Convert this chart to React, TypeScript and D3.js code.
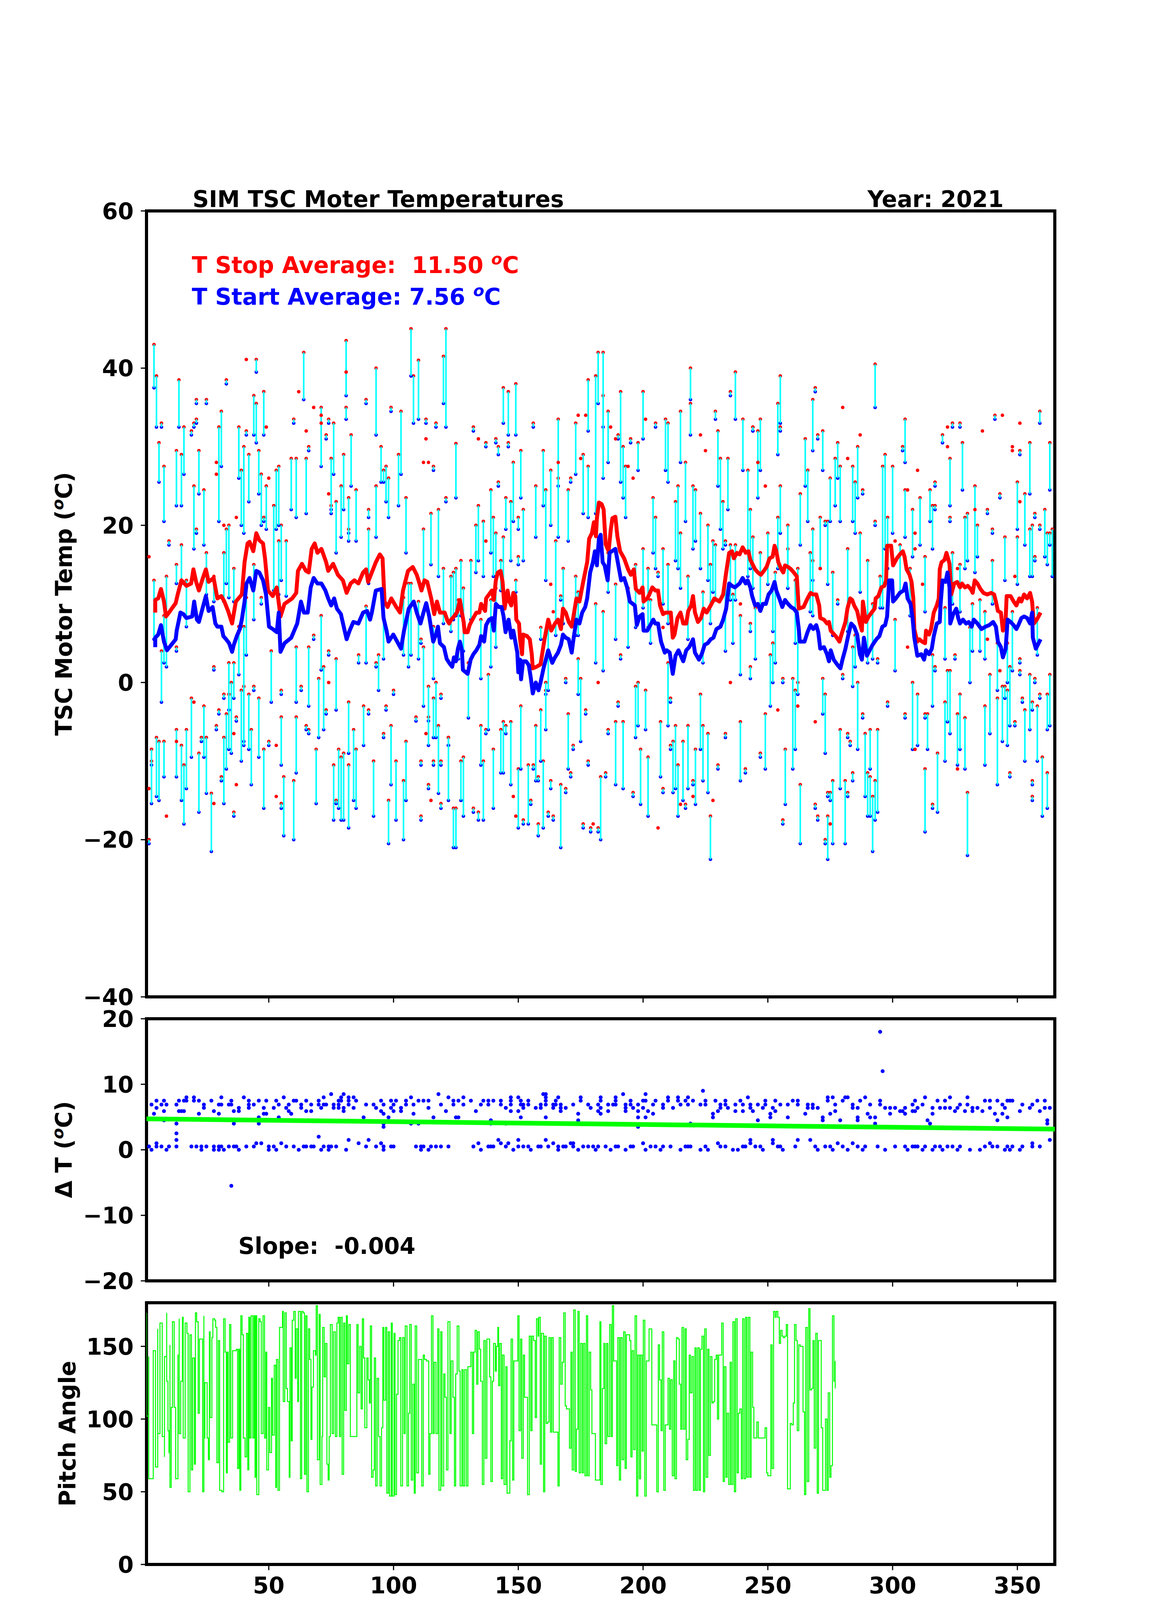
import * as d3 from 'd3'
import { useEffect } from 'react'

// ---- top panel: [yday, T stop, T start] per move ----
const moves: [number, number, number][] = [
  [4,43.0,37.5],[5,39.0,32.5],[7,33.0,32.5],[6,30.5,25.5],[8,27.5,20.5],[14,38.5,32.5],[16,32.5,26.5],[13,29.5,22.5],[15,29.0,22.5],[10,18.0,17.5],
  [21,36.0,35.5],[25,36.0,35.5],[19,32.0,31.5],[20,33.0,32.5],[21,33.5,33.0],[22,29.5,24.0],[20,25.0,17.0],[24,24.5,17.5],[21,19.5,19.0],[30,32.5,20.5],
  [31,34.5,27.5],[33,38.5,38.0],[45,41.1,39.5],[38,32.5,26.0],[39,27.0,20.0],[40,30.0,19.0],[41,32.0,31.5],[42,29.0,23.0],[44,36.5,31.5],[45,35.5,30.5],
  [48,37.0,31.5],[46,29.5,24.0],[47,26.5,20.0],[48,21.0,20.5],[49,25.0,19.5],[52,22.5,11.7],[53,27.0,19.5],[54,27.5,20.0],[55,20.0,13.0],[54,18.0,11.2],
  [57,18.0,11.0],[59,28.5,22.0],[60,33.5,33.0],[61,28.5,21.0],[64,42.0,36.0],[65,28.5,21.5],[66,30.0,29.5],[71,35.0,27.5],[73,31.5,31.0],[74,33.5,33.0],
  [76,33.0,26.5],[75,28.5,21.5],[75,22.5,22.0],[77,23.0,16.5],[79,25.0,18.5],[80,29.0,22.0],[81,43.5,36.5],[81,35.0,33.5],[82,23.5,18.0],[82,19.5,19.0],
  [83,31.5,25.0],[85,24.5,18.0],[89,36.0,35.5],[93,40.0,31.5],[95,30.0,25.5],[96,27.0,25.5],[97,27.5,23.0],[98,26.0,21.0],[93,25.0,18.5],[90,22.0,21.0],
  [90,19.5,12.6],[99,35.0,34.5],[103,34.5,26.5],[102,29.0,22.5],[105,23.5,16.5],[107,45.0,39.0],[108,39.0,33.0],[110,41.0,33.5],[113,33.5,33.0],[117,33.0,32.5],
  [116,27.5,27.0],[120,41.5,35.5],[121,45.0,32.5],[121,23.5,23.0],[115,21.5,15.0],[118,22.0,13.5],[112,19.5,12.6],[120,14.5,7.5],
  [4,13.0,5.5],[7,4.0,-2.5],[8,8.5,2.5],[9,13.5,2.0],[13,4.5,4.0],[15,17.5,12.6],[13,15.0,12.6],[17,13.0,7.1],[25,16.5,11.2],[28,13.5,10.3],
  [28,2.0,1.6],[32,16.5,10.3],[33,19.5,12.6],[34,20.0,10.8],[36,14.5,10.3],[34,2.5,-3.5],[35,0.0,-9.0],[36,2.5,-2.0],[38,7.1,1.0],[40,7.1,-8.0],
  [41,10.8,3.5],[44,15.0,8.0],[47,10.8,10.0],[51,4.0,-2.5],[55,-1.0,-1.5],[61,4.5,-2.5],[66,4.5,-3.0],[63,-0.5,-1.0],[68,6.0,5.5],[71,8.5,1.6],
  [72,2.0,-6.0],[70,0.5,-7.0],[74,4.0,3.5],[77,3.0,-3.5],[73,-3.5,-4.0],[86,3.5,2.5],[89,9.7,2.5],[94,3.5,-1.0],[96,11.2,3.0],[93,2.5,2.0],
  [100,-1.0,-1.5],[97,-3.0,-3.5],[104,10.8,3.5],[106,12.6,2.0],[107,12.6,3.5],[110,10.3,3.0],[111,5.5,5.0],[112,4.5,-3.0],[114,-0.5,-8.0],[116,-2.0,-7.0],
  [117,0.0,-7.0],[116,7.1,0.5],[119,-1.5,-2.0],[122,-7.0,-8.0],[114,-4.4,-4.9],[118,-5.5,-14.1],[122,-8.0,-15.0],
  [3,-8.5,-15.4],[5,-7.0,-14.5],[6,-7.5,-15.0],[8,-7.5,-12.0],[3,-10.0,-10.5],[13,-6.0,-12.0],[15,-8.0,-15.0],[16,-10.5,-18.0],[17,-6.0,-13.5],[19,-2.0,-9.5],
  [22,-9.0,-16.5],[23,-7.0,-7.5],[24,-3.0,-9.5],[25,-7.0,-14.1],[27,-14.1,-21.5],[29,-5.5,-6.0],[30,-3.5,-4.0],[31,-12.0,-12.5],[32,-7.0,-15.4],[32,-1.5,-2.0],
  [33,-4.0,-11.0],[34,-1.5,-8.5],[37,-4.4,-4.9],[36,-16.5,-17.0],[39,-1.0,-10.0],[40,-0.5,-7.5],[42,-1.5,-8.5],[43,-6.0,-13.0],[44,-0.5,-1.0],[46,-2.0,-9.5],
  [48,-8.5,-16.0],[50,-7.5,-8.0],[55,-4.4,-10.5],[55,-15.4,-16.0],[56,-12.0,-19.5],[60,-12.5,-20.0],[61,-4.4,-11.5],[65,-5.5,-6.0],[66,-6.0,-6.5],[69,-8.5,-15.4],
  [76,-10.5,-17.5],[77,-15.0,-15.4],[78,-8.5,-16.0],[79,-9.5,-17.5],[80,-9.0,-17.5],[82,-2.5,-9.0],[82,-10.5,-18.5],[84,-6.0,-15.0],[85,-8.5,-16.0],[88,-3.0,-8.0],
  [90,-3.5,-4.0],[92,-10.0,-17.0],[96,-6.5,-7.0],[98,-15.0,-20.5],[99,-5.5,-13.0],[101,-10.0,-17.5],[104,-12.5,-20.0],[105,-7.5,-15.0],[109,-4.4,-4.9],[111,-10.0,-10.5],
  [111,-17.0,-17.5],[114,-13.0,-13.5],[116,-10.0,-10.5],[119,-10.0,-10.5],[119,-15.4,-16.0],[2,-20.0,-20.5],
  [125,30.4,23.5],[132,32.5,32.0],[137,30.5,30.0],[141,31.0,30.5],[142,30.0,29.0],[144,37.5,33.0],[146,37.0,31.5],[146,30.5,30.0],[149,38.0,31.5],[156,33.0,32.5],
  [142,25.5,25.0],[148,28.0,20.5],[151,29.5,23.5],[145,23.5,19.5],[147,23.0,15.5],[150,21.0,19.5],[152,22.0,15.5],[150,16.0,15.0],[139,24.5,16.5],[140,21.0,13.5],
  [141,19.0,13.5],[134,22.5,15.5],[133,20.0,14.0],[136,20.5,13.5],[144,18.5,11.7],[143,15.5,11.7],[160,29.5,22.5],[157,25.0,18.5],[161,24.5,13.0],[163,27.0,20.0],
  [166,33.5,18.5],[166,26.0,25.0],[170,24.5,18.0],[171,26.0,25.5],[173,33.0,26.5],[176,29.0,21.5],[178,38.5,32.0],[178,27.5,21.0],[181,39.0,21.5],[182,42.0,35.5],
  [184,42.0,26.0],[184,36.5,32.5],[186,34.5,28.0],[191,37.0,25.5],[192,30.0,23.5],[193,27.5,21.0],[190,31.5,31.0],[195,31.0,30.5],[198,30.5,27.0],[200,37.0,31.0],
  [205,33.0,32.5],[209,33.5,27.0],[210,33.0,25.5],[215,34.5,28.0],[219,40.0,36.0],[219,35.5,31.5],[229,34.5,33.5],[230,32.0,25.0],[231,28.5,19.5],[234,28.5,22.0],
  [235,37.0,36.5],[237,39.5,33.5],[240,33.5,27.0],[244,32.5,32.0],[242,27.0,13.5],[204,23.5,16.5],[205,21.0,14.5],[208,17.0,10.0],[210,15.0,7.5],[213,23.0,15.5],
  [214,25.0,14.5],[215,19.0,12.0],[217,28.0,20.5],[220,25.0,17.0],[221,24.5,18.0],[223,21.5,14.5],[226,20.0,13.0],[228,18.0,11.5],[229,17.5,10.5],[232,23.0,17.0],
  [233,18.0,17.5],[243,22.0,14.5],[218,13.5,5.5],[227,15.0,7.5],[224,11.5,2.5],[235,17.5,10.5],[237,17.5,10.5],[236,11.2,5.0],[239,8.5,1.0],[233,13.5,4.0],
  [243,7.5,6.5],[243,2.0,0.5],
  [123,13.5,6.5],[124,14.0,8.0],[125,14.5,8.5],[127,15.5,8.5],[126,10.5,3.0],[128,12.0,4.0],[130,2.5,-4.5],[131,15.5,8.0],[135,8.0,0.5],[138,1.0,-6.0],
  [139,10.5,2.0],[141,12.0,4.5],[149,13.0,11.5],[159,7.0,5.5],[165,18.0,6.0],[168,14.5,7.5],[167,11.0,10.5],[173,13.5,6.0],[174,11.5,6.0],[162,7.5,-1.0],
  [161,0.0,-1.5],[174,3.0,-1.5],[175,0.5,-7.5],[169,0.5,0.0],[181,10.0,2.5],[184,9.0,1.5],[186,16.5,11.5],[189,12.5,5.5],[191,3.5,3.0],[194,12.0,4.5],
  [197,15.0,7.0],[200,17.0,9.5],[202,14.5,7.0],[203,10.5,5.0],[206,14.0,13.5],[197,-0.5,-7.0],[198,0.0,-5.5],[201,-1.0,-6.0],[210,2.5,-5.5],[211,-2.0,-2.5],
  [190,-2.5,-3.0],[177,-3.5,-4.0],[223,-1.5,-8.5],
  [122,-7.0,-8.0],[127,-10.0,-15.0],[128,-9.5,-17.0],[124,-16.0,-21.0],[125,-16.0,-21.0],[132,-16.0,-16.5],[134,-16.5,-17.5],[135,-5.5,-10.5],[136,-10.0,-17.5],[137,-6.0,-6.5],
  [140,-8.5,-16.0],[143,-6.0,-11.5],[144,-5.0,-11.5],[145,-5.5,-6.5],[147,-5.0,-13.0],[150,-11.0,-18.5],[151,-3.0,-11.0],[152,-17.5,-18.0],[154,-10.5,-18.0],[155,-15.0,-15.5],
  [156,-10.5,-11.0],[157,-5.5,-12.5],[158,-12.0,-12.5],[158,-18.0,-19.5],[159,-3.5,-10.0],[160,-10.0,-18.5],[161,-1.0,-6.0],[162,-16.5,-17.0],[163,-12.5,-13.5],[164,-17.0,-17.5],
  [167,-13.0,-21.0],[169,-13.5,-14.0],[170,-4.0,-11.0],[171,-11.5,-12.0],[172,-8.0,-8.5],[176,-18.0,-18.5],[178,-10.0,-10.5],[179,-18.5,-19.0],[182,-18.5,-19.0],[183,-12.0,-20.0],
  [185,-11.5,-12.0],[186,-6.0,-6.5],[189,-5.0,-13.0],[192,-5.0,-13.5],[196,-14.0,-14.5],[199,-8.5,-15.5],[202,-9.5,-17.0],[207,-5.0,-12.0],[208,-13.5,-14.0],[211,-8.0,-8.5],
  [212,-7.5,-14.0],[213,-5.5,-13.5],[214,-10.5,-17.0],[216,-7.5,-15.0],[217,-15.5,-16.0],[218,-5.5,-13.5],[220,-12.5,-13.0],[221,-8.5,-15.5],[224,-5.5,-12.5],[226,-6.5,-14.0],
  [227,-17.0,-22.5],[230,-10.5,-11.0],[233,-6.5,-7.0],[239,-5.0,-12.5],[241,-11.0,-11.5],
  [244,32.5,32.0],[246,32.0,23.5],[247,33.5,27.0],[254,35.5,29.0],[255,39.0,33.0],[255,32.5,32.0],[255,25.0,19.0],[254,21.0,14.5],[263,24.0,17.5],[265,31.0,25.0],
  [266,27.0,20.5],[268,36.0,29.5],[269,37.5,37.0],[270,31.5,31.0],[272,32.0,27.0],[268,19.5,13.0],[271,21.0,14.5],[258,20.0,12.0],[273,20.5,20.0],[274,20.5,12.5],
  [275,26.0,20.5],[277,28.5,22.5],[278,30.5,26.0],[279,27.5,20.5],[284,27.5,20.5],[285,25.5,19.0],[286,30.0,23.5],[288,24.5,24.0],[293,40.5,35.0],[293,20.5,20.0],
  [296,27.5,9.5],[297,29.0,17.0],[300,27.5,19.0],[298,21.0,14.5],[305,33.5,28.0],[304,30.0,29.5],[305,24.5,18.5],[308,22.0,16.0],[311,23.5,17.5],[315,24.5,20.5],
  [317,25.5,25.0],[317,22.5,22.0],[316,22.5,17.0],[320,31.5,30.5],[324,33.0,32.5],[327,33.0,32.5],[323,28.5,22.5],[323,21.0,20.5],[328,30.5,24.5],[329,21.0,14.5],
  [330,21.5,15.5],[333,25.0,14.0],[334,20.0,16.0],[338,22.0,21.5],[340,19.5,19.0],[341,34.0,33.5],[343,24.0,23.5],[345,18.5,13.0],[350,25.5,19.5],[350,18.5,12.5],
  [351,29.5,29.0],[353,24.0,17.5],[355,30.5,24.0],[355,19.5,13.5],[356,20.0,13.5],[357,21.5,21.0],[357,16.0,15.5],[359,34.5,33.0],[359,20.0,19.5],[361,22.0,16.0],
  [362,19.0,15.0],[363,19.0,17.5],[363,30.5,24.5],[364,19.5,13.5],[340,15.5,10.0],
  [244,18.5,12.0],[247,16.5,9.5],[245,9.5,3.0],[250,19.0,12.5],[252,12.0,6.5],[253,14.0,2.5],[251,3.5,-3.0],[252,5.0,0.0],[256,0.5,0.0],[258,17.0,12.0],
  [262,14.5,-1.5],[261,13.0,5.0],[260,0.5,-11.0],[261,-1.0,-8.5],[267,16.5,9.0],[268,15.5,8.5],[276,14.0,6.0],[278,10.5,10.0],[282,17.0,6.5],[284,4.5,-0.5],
  [285,6.0,2.0],[286,0.0,-8.5],[287,19.0,11.5],[290,15.5,2.5],[292,10.0,3.0],[294,3.0,2.5],[295,13.5,9.5],[301,8.0,1.5],[303,17.5,11.5],[307,14.5,8.5],
  [313,16.0,9.0],[316,3.5,-3.0],[317,2.0,1.5],[321,9.5,3.0],[324,16.5,10.0],[325,3.5,3.0],[327,15.0,9.0],[331,7.0,0.0],[332,10.0,4.0],[335,10.5,4.0],
  [337,9.0,3.0],[342,5.0,-1.0],[346,5.0,0.0],[348,9.0,1.5],[351,3.0,2.5],[351,1.5,1.0],[358,9.5,3.5],
  [249,-4.0,-11.0],[247,-9.0,-9.5],[256,-17.5,-18.0],[257,-8.5,-15.5],[262,0.0,-1.5],[263,-13.0,-20.5],[269,-15.5,-16.0],[270,-17.0,-17.5],[272,0.5,-4.0],[273,-1.5,-9.0],
  [274,-17.0,-22.5],[273,-20.0,-20.5],[274,-14.0,-14.5],[275,-14.0,-15.0],[276,-12.5,-20.5],[279,-6.0,-13.5],[280,1.0,0.5],[281,-12.5,-20.5],[282,-6.5,-7.0],[282,-14.0,-14.5],
  [283,-7.5,-8.0],[284,-11.5,-12.5],[288,-4.0,-4.5],[289,-6.5,-14.5],[290,-11.5,-17.0],[291,-6.0,-11.0],[291,-12.0,-17.0],[292,-14.5,-21.5],[293,-12.5,-17.5],[294,-6.0,-16.5],
  [298,-2.5,-3.0],[305,-4.0,-4.5],[308,0.0,-8.5],[310,-1.5,-8.0],[313,-4.0,-4.5],[314,-4.0,-8.5],[313,-11.0,-19.0],[316,-15.5,-16.0],[318,-9.0,-16.5],[321,-2.5,-10.0],
  [322,1.5,-5.0],[323,1.5,-6.5],[326,-4.0,-10.5],[327,-1.5,-8.5],[329,-4.5,-11.0],[330,-14.0,-22.0],[337,-3.0,-10.5],[339,1.0,-6.5],[342,-2.0,-13.0],[344,-0.5,-7.5],
  [345,-0.5,-2.0],[346,-1.0,-8.0],[347,2.0,-5.5],[347,-11.5,-12.0],[349,-5.0,-5.5],[352,-2.0,-2.5],[353,-3.5,-10.0],[355,1.0,-6.0],[356,-2.5,-3.5],[356,-12.5,-13.0],
  [356,-14.5,-15.0],[357,0.5,0.0],[358,-3.0,-10.0],[359,-1.5,-2.0],[360,-9.5,-17.0],[362,-11.5,-16.0],[362,-1.5,-6.0],[363,1.0,-5.5],
]

// stop readings with no matching start
const loneStops: [number, number][] = [
  [41,41.1],[49,32.5],[50,26.0],[37,21.0],[32,20.0],[29,28.0],[29,26.5],[62,37.0],[65,32.0],[68,35.0],[71,34.0],[71,33.0],[74,24.0],[81,39.5],
  [113,31.0],[112,28.0],[114,28.0],[2,16.0],[74,0.0],[113,-6.5],[13,-7.5],[20,-2.5],[28,-15.4],[36,-6.5],[37,-13.0],[53,-8.0],[53,-14.5],[115,-15.0],
  [9,-17.0],[2,-13.5],
  [134,31.0],[137,18.0],[175,28.5],[174,34.0],[177,34.0],[187,32.5],[189,31.0],[194,27.5],[196,26.0],[201,33.5],[223,31.5],[225,29.5],[166,28.0],
  [239,10.0],[235,0.0],[163,12.5],[164,9.0],[182,0.0],[208,7.0],[148,-14.5],[149,-17.0],[180,-18.0],[206,-18.5],[215,-15.5],[228,-15.0],[220,-14.5],
  [246,28.0],[249,25.0],[280,35.0],[282,28.5],[287,31.5],[306,24.5],[310,27.0],[322,32.5],[322,30.0],[333,22.0],[336,32.0],[344,34.0],[348,30.0],
  [348,29.5],[351,33.0],[351,23.0],[271,14.5],[301,18.0],[306,4.5],[309,19.0],[309,17.0],[312,12.5],[326,14.5],[338,5.5],[343,1.5],[349,13.5],
  [254,-3.5],[262,-3.0],[269,-5.0],[275,-18.0],[309,-8.5],[326,-11.0],
]

// running averages
const stopAvg: [number, number][] = [
  [4.5,8.9],[4.5,10.5],[5.7,10.7],[6.8,11.9],[8.0,10.3],[8.8,8.4],[10.0,8.9],[12.7,10.1],[13.5,11.2],[15.0,13.0],[17.0,12.3],[18.9,12.6],[19.8,14.4],
  [20.9,12.8],[22.0,11.7],[23.6,13.3],[24.8,14.4],[25.9,12.8],[27.9,13.3],[29.4,10.7],[31.0,11.0],[32.2,10.3],[33.7,9.1],[35.3,7.5],[36.8,10.3],
  [39.2,11.2],[40.3,15.3],[41.5,17.7],[42.3,17.9],[43.8,16.7],[45.0,19.0],[46.2,18.1],[47.7,17.7],[48.5,15.8],[49.7,11.7],[51.6,11.0],[53.2,12.1],
  [54.7,8.4],[56.3,10.0],[59.4,10.7],[61.0,11.4],[61.7,14.2],[63.3,15.1],[64.9,14.2],[66.0,14.0],[67.2,17.0],[68.4,17.7],[69.5,16.5],[71.1,17.0],
  [73.0,15.3],[73.8,14.2],[75.8,15.1],[77.7,13.7],[79.7,13.0],[81.2,11.4],[82.8,12.6],[84.3,13.0],[85.9,12.6],[87.8,14.0],[89.0,14.4],[89.8,12.8],
  [91.3,14.0],[92.9,15.3],[94.5,16.3],[95.6,15.8],[96.4,10.3],[97.6,9.6],[99.1,10.7],[101.1,9.6],[102.6,8.9],[103.8,11.7],[105.8,14.2],[107.7,14.7],
  [109.3,13.7],[110.4,12.6],[111.2,11.7],[112.4,13.0],[113.5,12.8],[115.1,10.7],[116.3,8.7],[117.4,10.3],[118.6,8.9],[120.5,8.9],[121.7,7.8],
  [122.3,7.5],[123.1,8.0],[124.2,8.4],[125.4,8.9],[126.6,10.5],[127.4,8.9],[128.1,7.7],[128.5,6.4],[129.7,6.4],[130.5,7.3],[131.6,8.0],[133.2,8.9],
  [134.4,8.9],[135.1,10.0],[136.7,9.1],[137.1,10.7],[138.7,11.4],[139.4,11.7],[140.2,10.5],[141.0,13.0],[141.8,14.0],[142.9,14.2],[143.7,12.8],
  [144.5,9.4],[145.7,11.7],[146.4,10.3],[147.2,9.8],[148.0,11.4],[148.8,11.0],[149.2,8.0],[150.3,7.5],[150.7,5.5],[151.5,3.6],[151.9,6.1],[153.5,5.9],
  [154.6,5.5],[155.4,3.6],[155.8,1.8],[157.3,2.0],[158.9,2.3],[160.5,5.5],[162.0,8.0],[163.2,6.6],[164.7,7.5],[165.9,8.0],[167.1,6.8],[167.9,9.4],
  [169.0,8.9],[170.2,7.7],[171.4,7.1],[172.1,8.4],[173.3,10.7],[174.5,10.3],[176.0,12.8],[177.6,15.3],[178.4,18.3],[179.5,19.0],[180.3,20.4],
  [181.1,18.6],[181.5,20.9],[182.3,22.9],[183.4,22.7],[184.2,22.0],[185.0,17.6],[186.2,16.7],[187.0,19.3],[187.7,20.9],[188.9,21.1],[189.7,18.6],
  [190.8,16.7],[192.4,15.8],[194.0,14.4],[195.1,13.7],[196.3,14.4],[197.1,11.9],[198.6,11.4],[199.8,12.1],[200.2,10.3],[201.7,10.7],[202.5,11.2],
  [203.7,12.1],[204.9,11.7],[206.0,11.7],[206.8,9.8],[208.0,8.7],[209.1,8.9],[211.1,8.9],[211.9,5.7],[212.6,6.1],[213.8,8.2],[215.0,8.9],[216.1,7.5],
  [217.3,7.5],[218.1,9.1],[219.3,9.8],[220.0,11.0],[220.8,8.9],[222.0,7.7],[223.2,8.2],[224.3,9.4],[225.5,8.9],[227.1,9.8],[228.6,10.7],[230.6,10.3],
  [232.1,11.2],[233.3,14.0],[234.5,16.5],[235.6,16.7],[236.4,15.8],[237.6,16.5],[238.7,16.3],[239.9,17.2],[241.1,16.5],[242.2,16.7],[243.0,15.6],
  [244.9,14.4],[246.0,14.0],[247.2,13.7],[248.4,14.2],[249.5,14.7],[250.7,15.8],[251.9,16.0],[252.7,17.4],[253.4,16.7],[254.2,15.3],[255.4,14.4],
  [256.2,14.0],[256.9,14.9],[258.1,14.7],[259.3,14.4],[260.4,14.0],[261.6,13.5],[262.4,9.4],[264.3,9.6],[265.9,10.7],[267.1,11.4],[268.2,11.2],
  [269.4,11.2],[270.6,9.8],[271.0,8.2],[272.5,8.0],[273.7,7.5],[274.5,7.7],[275.2,6.6],[277.2,5.9],[278.7,5.2],[279.5,6.1],[281.1,7.7],[281.9,9.4],
  [283.0,10.7],[283.8,10.5],[284.6,9.8],[285.8,9.1],[286.9,7.5],[287.7,6.6],[288.1,10.3],[289.3,7.7],[290.4,8.4],[291.6,8.9],[292.8,9.4],[293.2,10.7],
  [294.3,11.0],[295.5,12.1],[296.7,12.3],[297.4,13.0],[297.8,17.4],[299.4,17.4],[300.2,14.9],[301.7,15.8],[302.9,16.3],[304.1,16.7],[304.8,16.0],
  [305.6,14.4],[306.8,13.7],[307.6,12.8],[308.3,10.7],[308.7,6.8],[309.9,5.2],[310.7,5.5],[311.8,5.2],[313.0,5.0],[313.4,6.6],[314.6,6.1],[315.4,6.8],
  [316.5,8.9],[317.7,9.8],[318.5,10.7],[318.9,14.4],[319.6,15.3],[320.8,15.6],[321.6,16.5],[322.8,15.1],[323.5,11.2],[324.7,12.6],[325.9,12.8],
  [327.0,12.1],[327.8,12.6],[329.0,12.1],[330.1,12.3],[331.3,11.9],[332.1,11.4],[332.9,13.0],[334.0,12.6],[335.2,11.9],[336.4,11.4],[337.9,11.2],
  [339.5,11.4],[340.7,11.2],[341.4,10.3],[342.2,9.1],[343.4,8.9],[344.2,6.6],[345.3,8.0],[345.7,11.0],[347.3,11.0],[348.5,10.3],[349.6,9.8],
  [350.8,10.7],[351.6,10.3],[352.7,11.2],[353.9,10.7],[355.1,11.4],[355.9,10.3],[356.6,7.5],[357.8,8.0],[359.3,8.9],
]

const startAvg: [number, number][] = [
  [4.5,4.5],[4.5,5.7],[5.7,6.1],[6.8,7.3],[8.0,5.2],[9.2,4.1],[12.7,5.5],[13.1,6.6],[14.6,8.9],[15.8,8.7],[17.0,8.2],[19.3,8.4],[20.1,10.3],
  [21.2,8.0],[22.0,7.7],[23.6,9.6],[24.8,11.0],[25.9,9.1],[27.5,9.6],[28.6,7.5],[29.4,7.1],[31.0,7.1],[31.8,5.9],[32.9,5.5],[34.1,5.0],[35.3,3.9],
  [36.0,4.8],[37.2,5.9],[38.4,6.8],[39.2,8.0],[40.3,10.3],[41.1,12.6],[42.3,13.3],[43.8,11.7],[45.0,14.2],[46.2,14.0],[47.7,13.0],[48.9,11.2],
  [50.1,7.1],[51.6,6.8],[53.2,6.4],[54.0,8.9],[54.7,3.9],[56.3,5.0],[59.0,5.7],[60.2,6.6],[61.4,7.5],[62.9,10.3],[64.1,8.9],[65.6,8.9],[66.8,12.1],
  [68.0,13.3],[69.5,12.6],[71.1,12.6],[72.7,11.7],[73.8,10.7],[75.0,9.8],[76.2,10.7],[77.3,9.4],[78.9,8.7],[80.4,6.6],[81.2,5.5],[82.4,6.6],
  [83.9,7.7],[85.9,7.5],[87.8,8.9],[89.4,9.1],[90.6,8.0],[91.3,8.9],[92.9,11.7],[95.2,11.9],[96.0,8.2],[97.2,6.6],[98.0,5.2],[99.9,6.1],[103.0,4.3],
  [104.2,6.6],[106.1,9.4],[108.1,10.3],[109.3,8.9],[110.8,7.5],[112.0,8.9],[113.1,10.1],[114.3,8.4],[115.9,5.2],[117.0,6.1],[117.8,7.1],[118.6,5.0],
  [120.2,4.5],[121.3,3.0],
  [122.3,2.5],[123.5,2.0],[124.2,3.2],[125.0,2.7],[125.8,4.3],[126.6,5.2],[127.4,4.1],[127.8,1.6],[129.7,1.1],[130.9,2.9],[132.0,3.6],[133.2,4.1],
  [134.4,4.8],[135.1,5.9],[136.3,5.2],[137.1,7.3],[138.3,8.0],[139.4,8.2],[140.2,6.6],[141.0,10.0],[142.2,9.6],[143.3,9.6],[144.1,8.4],[144.9,6.4],
  [146.1,8.0],[147.2,5.7],[148.0,6.6],[148.8,5.2],[149.6,3.8],[150.0,1.3],[150.7,2.9],[151.1,0.4],[151.9,2.7],[153.1,2.7],[154.2,2.2],[155.0,0.6],
  [155.8,-1.4],[157.0,0.0],[158.1,-1.0],[158.9,0.0],[160.1,1.8],[162.0,4.1],[163.6,2.5],[164.7,3.2],[165.9,3.8],[167.1,4.8],[167.9,6.1],[169.0,5.7],
  [170.2,5.5],[171.4,3.8],[172.1,5.5],[173.3,8.0],[174.5,7.5],[175.6,8.9],[176.8,9.6],[177.6,10.7],[178.8,14.0],[179.9,15.3],[180.7,16.7],[181.5,14.9],
  [182.3,18.3],[183.0,18.8],[183.8,15.3],[184.6,14.9],[185.8,13.0],[186.6,16.5],[188.9,17.0],[190.1,14.9],[191.2,13.0],[192.4,13.3],[193.6,12.1],
  [194.7,10.3],[196.7,9.8],[197.5,7.3],[198.6,8.4],[199.8,8.7],[200.2,6.6],[201.7,6.6],[204.1,8.0],[204.9,7.5],[206.0,7.5],[207.2,5.2],[208.7,3.8],
  [209.5,4.1],[210.7,3.8],[211.9,1.1],[213.0,3.4],[214.2,4.1],[215.4,3.2],[216.1,2.7],[217.3,4.1],[218.5,4.5],[220.0,5.5],[220.8,3.8],[222.4,2.9],
  [223.5,3.6],[224.7,4.8],[225.9,5.0],[227.1,5.5],[228.2,5.7],[229.4,6.8],[231.0,7.1],[232.1,8.0],[233.3,9.4],[234.5,12.6],[235.6,12.3],[236.8,12.1],
  [238.7,12.6],[239.9,13.3],[241.1,12.6],[241.9,13.0],[243.0,12.1],
  [243.7,11.0],[244.9,9.8],[246.0,10.0],[247.0,9.1],[248.0,10.0],[249.2,10.0],[250.3,11.2],[251.5,11.7],[252.7,12.8],[253.4,11.7],[254.6,10.7],
  [255.8,9.6],[256.9,10.5],[258.1,10.0],[259.3,9.6],[260.4,9.4],[261.6,8.9],[262.4,6.8],[262.8,5.2],[264.7,5.2],[265.9,6.4],[267.1,7.3],[268.2,6.8],
  [269.4,7.3],[270.2,6.4],[271.0,4.3],[272.5,4.5],[273.7,3.6],[274.5,2.7],[275.2,4.1],[276.4,2.9],[278.0,2.2],[279.1,1.8],[279.9,2.9],[281.1,4.3],
  [282.3,6.1],[283.4,7.5],[284.6,7.1],[285.8,6.1],[286.9,3.6],[287.7,2.9],[288.5,5.7],[289.7,3.4],[290.8,4.1],[292.0,4.8],[293.5,5.5],[294.7,5.9],
  [295.9,7.1],[297.0,7.3],[297.8,8.4],[298.6,13.0],[299.8,13.0],[300.2,10.3],[301.3,10.7],[302.9,11.4],[304.4,11.7],[305.2,12.6],[306.0,10.7],
  [307.2,10.0],[308.0,8.2],[308.7,5.7],[309.9,3.4],[311.5,3.6],[312.6,2.9],[313.4,4.1],[314.6,3.6],[315.7,4.3],[316.5,5.9],[317.7,7.5],[318.9,7.7],
  [319.2,9.8],[320.0,13.0],[321.2,12.8],[322.0,14.0],[322.8,12.1],[323.1,7.5],[324.3,8.7],[325.5,9.4],[326.3,8.2],[327.0,7.5],[328.2,8.0],[329.4,7.5],
  [330.5,7.7],[331.7,7.1],[332.5,8.0],[334.0,7.5],[335.6,6.8],[337.2,7.1],[338.7,7.3],[340.3,7.7],[341.4,7.1],[342.2,5.2],[343.4,4.5],[344.2,3.2],
  [345.3,4.3],[346.1,8.0],[347.3,7.7],[348.5,7.3],[349.6,6.8],[350.4,7.3],[351.6,8.2],[352.7,8.4],[353.9,8.2],[355.1,7.5],[355.9,8.9],[356.2,5.7],
  [357.4,4.3],[359.3,5.5],
]

// ---- middle panel: delta T (stop - start), grouped by level ----
const dTLevels: [number, number[]][] = [
  [9.0, [224]],
  [8.5, [75,80,118,160,161,192,201]],
  [8.0, [17,20,31,40,56,72,79,82,84,107,122,128,147,150,161,166,175,183,189,210,214,218,242,274,276,281,282,289,313,323,330]],
  [7.5, [5,8,14,16,17,20,22,27,35,42,46,49,53,60,61,65,70,78,79,82,85,95,99,101,105,110,112,114,124,126,131,136,138,140,143,147,151,154,161,165,
    175,183,189,195,200,201,205,210,214,217,220,225,229,233,239,249,253,260,262,274,280,287,295,309,318,321,337,339,342,346,347,348,358,361]],
  [6.9, [3,7,9,13,24,30,31,34,35,42,44,54,58,63,67,70,72,73,76,78,82,89,92,96,100,105,108,119,124,128,135,138,143,147,151,152,154,159,161,164,165,
    167,172,178,182,186,188,189,193,195,198,204,208,215,218,223,225,231,233,237,240,243,246,249,255,258,262,266,268,277,284,291,295,308,312,327,330,
    344,352,356]],
  [6.4, [5,24,38,42,48,52,57,63,71,76,78,80,84,93,99,103,114,145,152,157,159,164,167,169,179,183,193,196,200,208,212,231,234,243,248,252,266,268,270,
    284,286,297,299,301,305,310,316,319,321,323,326,332,334,339,345,355,361,363]],
  [5.9, [8,14,15,16,28,36,38,58,65,67,80,95,100,103,121,133,147,150,167,182,186,193,198,202,230,237,240,244,253,277,303,304,308,309,325,329,332,336,351,359]],
  [5.5, [4,22,30,48,49,59,96,108,174,183,204,228,251,265,275,290,299,305,316,341,344]],
  [4.95, [46,54,88,98,116,125,126,151,161,198,201,228,251,258,272,286,291,293,346]],
  [4.5, [8,139,174,246,272,279,286,314,342,362]],
  [4.0, [13,36,46,96,107,110,139,145,219,293,315,362]],
  [3.5, [96,198]],
  [2.5, [13]],
  [2.0, [70]],
  [1.5, [13,82,90,142,150,161,243,252,262,267,363]],
  [1.0, [5,45,47,55,86,95,134,143,146,164,171,172,200,230,243,252,278,284,339,356]],
  [0.5, [2,5,7,10,13,19,21,23,25,28,30,31,34,36,37,41,44,50,52,57,60,64,65,67,68,72,74,75,77,89,93,96,99,100,109,111,112,115,117,119,122,132,138,139,
    140,145,150,152,154,158,159,162,166,168,169,172,176,178,180,182,185,189,190,195,196,203,205,208,211,217,218,219,225,231,233,240,241,245,247,254,
    255,261,269,273,275,280,286,289,294,301,305,308,309,310,313,317,319,322,324,327,337,340,342,346,348,352,356,359]],
  [0.0, [3,9,23,28,30,32,38,50,53,62,71,74,81,96,111,114,135,148,155,166,174,181,187,193,201,207,215,223,226,236,238,248,256,270,276,282,288,297,306,
    312,316,320,326,331,335,345,347,351]],
]
const dTOutliers: [number, number][] = [[35, -5.5], [295, 18.0], [296, 12.0]]
const dTFit: [number, number][] = [[1, 4.72], [365, 3.16]]

// ---- bottom panel: pitch angle ----
const pitch: [number, number][] = [
  [1.0,173],[1.0,102],[1.9,143],[1.9,59],[2.8,59],[3.7,147],[4.6,67],[5.5,162],[5.5,90],[6.4,166],[7.3,90],[7.3,88],[8.2,74],[8.2,143],[9.1,173],
  [9.1,126],[9.6,92],[10.0,77],[10.4,151],[10.4,53],[10.9,108],[11.4,167],[12.1,108],[12.7,59],[13.6,144],[14.1,169],[14.1,90],[14.7,126],[15.4,170],
  [15.7,87],[16.5,166],[17.2,159],[17.7,50],[18.4,158],[19.0,65],[19.5,142],[20.2,69],[20.6,173],[21.1,167],[21.7,104],[22.2,155],[22.9,155],[23.5,50],
  [24.0,171],[24.0,87],[24.4,125],[25.3,87],[25.8,72],[26.2,160],[26.5,101],[27.2,156],[27.6,169],[28.3,168],[28.7,163],[29.2,70],[29.8,154],[30.3,51],
  [31.2,50],[31.9,169],[32.5,146],[33.0,63],[33.4,146],[33.7,84],[34.3,165],[34.8,87],[35.5,147],[36.2,147],[37.0,148],[37.5,66],[38.0,148],[38.4,51],
  [38.8,171],[39.3,158],[39.8,87],[40.5,74],[41.1,159],[41.6,65],[42.0,170],[42.4,87],[42.9,171],[43.6,87],[44.1,171],[44.5,60],[44.9,171],[45.2,48],
  [46.0,169],[46.5,167],[47.0,90],[47.7,171],[48.3,87],[48.8,146],[49.2,65],[49.9,108],[50.4,77],[51.1,128],[51.5,89],[52.2,137],[52.8,53],[53.1,141],
  [53.7,51],[54.3,163],[54.9,163],[55.5,174],[55.8,112],[56.4,173],[57.0,121],[57.5,112],[58.2,60],[58.5,149],[59.0,85],[59.4,168],[60.0,174],[60.6,128],
  [61.0,162],[61.6,112],[61.9,174],[62.7,59],[63.2,174],[63.8,173],[64.3,62],[64.8,171],[65.3,50],[65.9,162],[66.4,141],[66.9,86],[67.3,122],[67.9,147],
  [68.7,144],[69.0,178],[69.5,72],[70.2,172],[70.6,55],[71.3,88],[71.6,163],[72.2,129],[72.7,152],[73.3,69],[73.8,58],[74.2,88],[74.7,165],[75.4,90],
  [76.0,160],[76.7,88],[77.3,166],[77.8,170],[78.3,88],[78.8,170],[79.4,62],[80.0,166],[80.5,106],[81.1,171],[81.5,138],[82.1,165],[82.7,88],[83.1,88],
  [83.9,88],[84.6,88],[85.3,165],[85.8,118],[86.4,150],[87.0,107],[87.5,169],[88.0,142],[88.5,94],[89.3,142],[89.8,127],[90.3,111],[90.7,164],[91.2,60],
  [91.8,65],[92.3,142],[92.8,54],[93.4,128],[94.0,88],[94.6,54],[95.2,94],[95.7,163],[96.1,113],[96.8,163],[97.3,49],[97.9,160],[98.4,47],[99.1,166],
  [99.5,47],[100.2,159],[100.6,48],[101.2,117],[101.8,154],[102.4,156],[102.9,54],[103.6,156],[104.2,90],[104.7,164],[105.4,54],[106.0,104],[106.5,165],
  [107.1,58],[107.7,124],[108.3,49],[108.7,164],[109.3,63],[110.0,141],[111.3,54],[111.9,144],[112.4,141],[113.2,140],[114.1,62],[114.6,90],[115.2,171],
  [115.8,90],[116.3,139],[117.0,90],[117.7,162],[118.2,51],[118.9,160],[119.4,54],[120.1,131],[120.6,115],[121.2,65],[121.8,167],[122.6,90],[123.1,140],
  [123.8,115],[124.4,54],[124.9,131],[125.5,164],[126.2,133],[126.7,54],[127.4,134],[127.9,54],[128.5,134],[129.2,54],[129.8,136],[130.4,136],[131.0,146],
  [131.6,90],[132.1,146],[132.7,161],[133.3,124],[133.8,160],[134.4,148],[134.9,126],[135.6,55],[136.2,154],[136.8,73],[137.4,155],[138.5,129],[139.0,57],
  [139.6,126],[140.1,152],[140.8,133],[141.2,150],[141.8,163],[142.1,123],[142.6,152],[143.2,59],[143.7,144],[144.3,55],[145.0,136],[145.5,49],[146.1,49],
  [146.6,85],[147.1,155],[147.7,58],[148.2,140],[148.8,140],[149.2,140],[149.8,171],[150.3,92],[150.9,155],[151.4,73],[152.0,144],[152.5,115],[153.2,115],
  [153.7,48],[154.4,157],[155.0,92],[155.5,157],[156.1,154],[156.8,101],[157.3,169],[157.9,157],[158.2,170],[158.8,69],[159.3,159],[160.1,50],[160.6,157],
  [161.2,97],[161.8,98],[162.3,156],[162.9,91],[163.4,156],[164.0,91],[164.6,91],[165.3,91],[165.9,54],[166.4,156],[167.0,124],[167.6,139],[168.2,173],
  [168.8,109],[169.3,107],[169.9,107],[170.5,80],[171.1,146],[171.6,65],[172.2,175],[172.8,64],[173.3,93],[173.9,174],[174.4,63],[175.0,152],[175.6,63],
  [176.1,152],[176.7,61],[177.3,171],[177.8,61],[178.4,146],[179.0,120],[179.5,90],[180.2,90],[180.9,58],[181.4,58],[182.7,167],[183.1,55],[183.7,121],
  [184.3,152],[184.8,83],[185.4,152],[185.9,88],[186.6,165],[187.2,88],[187.7,178],[188.2,140],[188.8,140],[189.4,68],[189.9,156],[190.5,58],[191.0,156],
  [191.6,72],[192.2,160],[192.8,66],[193.3,158],[193.9,158],[194.6,154],[195.1,74],[195.6,147],[196.2,79],[196.8,171],[197.4,47],[197.9,144],[198.5,59],
  [199.0,144],[199.6,78],[200.1,168],[200.7,47],[201.3,140],[201.9,140],[202.4,162],[203.0,162],[203.5,96],[204.2,96],[204.9,96],[205.5,50],[206.1,151],
  [206.6,127],[207.2,92],[207.7,160],[208.3,51],[208.9,96],[209.4,96],[210.0,128],[210.6,93],[211.1,127],[211.7,61],[212.3,140],[212.8,59],[213.4,156],
  [214.0,155],[214.5,124],[215.1,93],[215.6,163],[216.2,93],[216.8,162],[217.3,72],[217.9,86],[218.5,144],[219.0,118],[219.6,143],[220.2,51],[220.8,149],
  [221.3,51],[221.9,149],[222.5,51],[223.0,148],[223.6,157],[224.2,50],[224.7,162],[225.3,60],[225.9,148],[226.4,75],[227.0,143],[227.6,111],[228.1,112],
  [228.7,141],[229.3,144],[229.8,100],[230.3,144],[231.0,144],[231.5,166],[232.1,57],[232.6,136],[233.2,60],[233.7,104],[234.3,55],[234.9,139],[235.4,55],
  [236.0,167],[236.6,50],[237.1,169],[237.7,63],[238.2,104],[238.8,107],[239.4,59],[239.9,169],[240.5,59],[241.1,170],[241.6,60],[242.2,170],[242.8,60],
  [243.3,146],[243.9,108],[244.4,87],[245.0,87],[245.6,98],[246.2,87],[247.3,87],[248.2,87],[248.9,94],[249.5,63],[250.0,61],[250.6,61],[251.2,151],
  [251.7,66],[252.3,174],[252.9,170],[253.4,174],[254.0,170],[254.6,152],[255.1,161],[255.7,157],[256.2,156],[256.8,157],[257.4,165],[257.9,52],[258.4,52],
  [259.0,97],[259.6,96],[260.2,111],[260.7,165],[261.3,154],[261.8,92],[262.4,151],[263.0,150],[263.5,150],[264.1,105],[264.7,48],[265.2,163],[265.8,57],
  [266.4,176],[266.9,120],[267.5,121],[268.1,154],[268.6,80],[269.2,159],[269.8,49],[270.3,154],[270.9,154],[271.4,94],[272.0,51],[272.6,51],[273.1,100],
  [273.7,51],[274.2,118],[274.8,60],[275.3,68],[275.9,171],[276.5,126],[277.0,121],[277.0,140],
]

// ---- axes ----
const dayDomain: [number, number] = [1, 365]
const tempDomain: [number, number] = [-40, 60]
const dTDomain: [number, number] = [-20, 20]
const pitchDomain: [number, number] = [0, 180]
const dayTicks = [50, 100, 150, 200, 250, 300, 350]
const tempTicks = [-40, -20, 0, 20, 40, 60]
const dTTicks = [-20, -10, 0, 10, 20]
const pitchTicks = [0, 50, 100, 150]

const stopAverage = 11.5
const startAverage = 7.56
const slope = -0.004
const year = 2021

const L = 375, R = 2700
const FONT = 'DejaVu Sans'
const FS = 58
const TICK = 14.6

const fmt = (v: number) => (v < 0 ? '\u2212' + Math.abs(v) : String(v))

function Sup() {
  return (
    <>
      <tspan dy={-22} fontSize={41} fontStyle="italic">o</tspan>
      <tspan dy={22}>C</tspan>
    </>
  )
}

function Frame({ y, ticks, top, bottom, clipId }: {
  y: d3.ScaleLinear<number, number>
  ticks: number[]
  top: number
  bottom: number
  clipId: string
}) {
  const x = d3.scaleLinear().domain(dayDomain).range([L, R])
  return (
    <g>
      <rect x={L} y={top} width={R - L} height={bottom - top} fill="none" stroke="#000" strokeWidth={8} />
      {ticks.map(t => (
        <g key={'y' + t}>
          <line x1={L - TICK} x2={L} y1={y(t)} y2={y(t)} stroke="#000" strokeWidth={3} />
          <text x={L - 33} y={y(t)} dy="0.36em" textAnchor="end" fontSize={FS}>{fmt(t)}</text>
        </g>
      ))}
      {dayTicks.map(t => (
        <line key={'x' + t} x1={x(t)} x2={x(t)} y1={bottom} y2={bottom + TICK} stroke="#000" strokeWidth={3} />
      ))}
      <clipPath id={clipId}><rect x={L} y={top} width={R - L} height={bottom - top} /></clipPath>
    </g>
  )
}

export default function App() {
  useEffect(() => {
    document.body.style.margin = '0'
  }, [])

  const x = d3.scaleLinear().domain(dayDomain).range([L, R])
  const yT = d3.scaleLinear().domain(tempDomain).range([2552, 540])
  const yD = d3.scaleLinear().domain(dTDomain).range([3279, 2608])
  const yP = d3.scaleLinear().domain(pitchDomain).range([4005, 3335])

  const tLine = d3.line<[number, number]>().x(d => x(d[0])).y(d => yT(d[1]))
  const dLine = d3.line<[number, number]>().x(d => x(d[0])).y(d => yD(d[1]))
  const pLine = d3.line<[number, number]>().x(d => x(d[0])).y(d => yP(d[1])).curve(d3.curveStepAfter)

  const dTPoints: [number, number][] = dTLevels.flatMap(([v, days]) => days.map(d => [d, v] as [number, number]))
    .concat(dTOutliers)

  return (
    <svg width={3000} height={4500} style={{ display: 'block', background: '#fff' }}
      fontFamily={FONT} fontWeight="bold">
      <rect width={3000} height={4500} fill="#fff" />

      {/* top panel */}
      <Frame y={yT} ticks={tempTicks} top={540} bottom={2552} clipId="cTop" />
      <g clipPath="url(#cTop)">
        {moves.map((m, i) => <circle key={'s' + i} cx={x(m[0])} cy={yT(m[1])} r={4.5} fill="#ff0000" />)}
        {moves.map((m, i) => <circle key={'b' + i} cx={x(m[0])} cy={yT(m[2])} r={4.5} fill="#0000ff" />)}
        {moves.map((m, i) => (
          <line key={'l' + i} x1={x(m[0])} x2={x(m[0])} y1={yT(m[1])} y2={yT(m[2])} stroke="#00ffff" strokeWidth={4} />
        ))}
        {loneStops.map((m, i) => <circle key={'o' + i} cx={x(m[0])} cy={yT(m[1])} r={4.5} fill="#ff0000" />)}
        <path d={tLine(stopAvg) ?? ''} fill="none" stroke="#ff0000" strokeWidth={10} strokeLinejoin="round" />
        <path d={tLine(startAvg) ?? ''} fill="none" stroke="#0000ff" strokeWidth={10} strokeLinejoin="round" />
      </g>
      <text x={493} y={530} fontSize={FS}>SIM TSC Moter Temperatures</text>
      <text x={2569} y={530} fontSize={FS} textAnchor="end">Year: {year}</text>
      <text x={491} y={699} fontSize={FS} fill="#ff0000" style={{ whiteSpace: 'pre' }}>
        {`T Stop Average:  ${stopAverage.toFixed(2)} `}<Sup />
      </text>
      <text x={491} y={780} fontSize={FS} fill="#0000ff" style={{ whiteSpace: 'pre' }}>
        {`T Start Average: ${startAverage.toFixed(2)} `}<Sup />
      </text>
      <text transform={`translate(163,1546) rotate(-90)`} textAnchor="middle" dy="0.36em" fontSize={FS}>
        TSC Motor Temp (<Sup />)
      </text>

      {/* middle panel */}
      <Frame y={yD} ticks={dTTicks} top={2608} bottom={3279} clipId="cMid" />
      <g clipPath="url(#cMid)">
        {dTPoints.map((p, i) => <circle key={'d' + i} cx={x(p[0])} cy={yD(p[1])} r={5} fill="#0000ff" />)}
        <path d={dLine(dTFit) ?? ''} fill="none" stroke="#00ff00" strokeWidth={12} />
      </g>
      <text x={610} y={3210} fontSize={FS} style={{ whiteSpace: 'pre' }}>{`Slope:  ${slope.toFixed(3)}`}</text>
      <text transform={`translate(163,2943) rotate(-90)`} textAnchor="middle" dy="0.36em" fontSize={FS}>
        {'\u0394 T ('}<Sup />)
      </text>

      {/* bottom panel */}
      <Frame y={yP} ticks={pitchTicks} top={3335} bottom={4005} clipId="cBot" />
      <g clipPath="url(#cBot)">
        <path d={pLine(pitch) ?? ''} fill="none" stroke="#00ff00" strokeWidth={2.5} />
      </g>
      {dayTicks.map(t => (
        <text key={'xl' + t} x={x(t)} y={4079} textAnchor="middle" fontSize={FS}>{t}</text>
      ))}
      <text x={1537} y={4153} textAnchor="middle" fontSize={FS}>Time (yday)</text>
      <text transform={`translate(172,3670) rotate(-90)`} textAnchor="middle" dy="0.36em" fontSize={FS}>Pitch Angle</text>
    </svg>
  )
}
